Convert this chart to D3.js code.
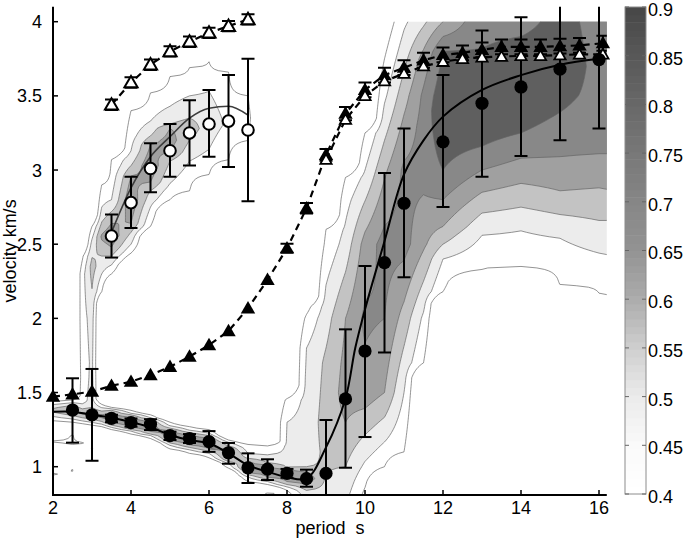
<!DOCTYPE html>
<html>
<head>
<meta charset="utf-8">
<script src="https://cdn.jsdelivr.net/npm/d3@7"></script>
<style>
  body { margin: 0; background: #fff; }
  text { font-family: "Liberation Sans", Arial, sans-serif; fill: #000; }
</style>
</head>
<body>
<svg id="chart" width="685" height="539"></svg>
<script>
// ---- point series ----
const openCircleX  = [3.5, 4, 4.5, 5, 5.5, 6, 6.5, 7];
const openCircleV  = [2.555, 2.78, 3.01, 3.13, 3.25, 3.31, 3.33, 3.27];
const openCircleLo = [2.41, 2.61, 2.85, 2.955, 3.03, 3.09, 3.02, 2.79];
const openCircleHi = [2.70, 2.955, 3.18, 3.31, 3.47, 3.54, 3.64, 3.75];

const fillCircleX  = [2.5, 3, 3.5, 4, 4.5, 5, 5.5, 6, 6.5, 7, 7.5, 8, 8.5, 9, 9.5, 10, 10.5, 11, 12, 13, 14, 15, 16];
const fillCircleV  = [1.382, 1.349, 1.326, 1.297, 1.286, 1.209, 1.19, 1.169, 1.094, 0.993, 0.984, 0.955, 0.92, 0.955, 1.457, 1.78, 2.376, 2.776, 3.19, 3.45, 3.56, 3.68, 3.745];
const fillCircleLo = [1.162, 1.04, 1.30, 1.27, 1.247, 1.18, 1.16, 1.10, 1.02, 0.89, 0.91, 0.925, 0.865, 0.60, 0.993, 1.20, 1.77, 2.277, 2.75, 2.955, 3.094, 3.20, 3.28];
const fillCircleHi = [1.596, 1.659, 1.35, 1.325, 1.32, 1.236, 1.22, 1.24, 1.16, 1.09, 1.05, 0.985, 0.98, 1.315, 1.926, 2.353, 2.98, 3.28, 3.64, 3.94, 4.03, 4.4, 4.4];

const fillTriX = [2, 2.5, 3, 3.5, 4, 4.5, 5, 5.5, 6, 6.5, 7, 7.5, 8, 8.5, 9, 9.5, 10, 10.5, 11, 11.5, 12, 12.5, 13, 13.5, 14, 14.5, 15, 15.5, 16.1];
const fillTriV = [1.472, 1.488, 1.506, 1.546, 1.573, 1.618, 1.674, 1.742, 1.82, 1.915, 2.068, 2.259, 2.473, 2.742, 3.102, 3.38, 3.54, 3.64, 3.69, 3.74, 3.776, 3.79, 3.81, 3.83, 3.83, 3.83, 3.835, 3.84, 3.855];
const fillTriErr = [0, 0, 0, 0, 0, 0, 0, 0, 0, 0, 0, 0, 0.03, 0.035, 0.04, 0.045, 0.05, 0.05, 0.05, 0.05, 0.05, 0.05, 0.05, 0.05, 0.05, 0.05, 0.05, 0.05, 0.05];

const openTriX = [3.5, 4, 4.5, 5, 5.5, 6, 6.5, 7];
const openTriV = [3.44, 3.59, 3.71, 3.80, 3.865, 3.925, 3.97, 4.016];
const openTriErr = [0.035, 0.035, 0.035, 0.035, 0.035, 0.035, 0.035, 0.035];
const openTri2X = [9, 9.5, 10, 10.5, 11, 11.5, 12, 12.5, 13, 13.5, 14, 14.5, 15, 15.5, 16.1];
const openTri2V = [3.07, 3.34, 3.50, 3.60, 3.65, 3.70, 3.73, 3.75, 3.76, 3.765, 3.77, 3.77, 3.775, 3.78, 3.78];

// solid curves
const blackLineX = [2, 2.5, 3, 3.5, 4, 4.5, 5, 5.5, 6, 6.5, 7, 7.5, 8, 8.5, 9, 9.5, 9.75, 10, 10.5, 11, 11.5, 12, 13, 14, 15, 16];
const blackLineV = [1.37, 1.37, 1.35, 1.33, 1.30, 1.266, 1.214, 1.18, 1.158, 1.09, 1.01, 0.966, 0.93, 0.92, 1.13, 1.46, 1.8, 2.06, 2.52, 2.97, 3.2, 3.36, 3.54, 3.64, 3.71, 3.75];
const grayLineX = [3.5, 4, 4.5, 5, 5.5, 6, 6.5, 7];
const grayLineV = [2.58, 2.88, 3.09, 3.225, 3.35, 3.417, 3.43, 3.37];

// ---- probability field: one velocity profile [velocity, value] per period column ----
const fieldPeriods = [2, 2.5, 2.75, 3, 3.25, 3.5, 4, 4.5, 5, 5.5, 6, 6.5, 7, 7.5, 8, 8.5, 9, 9.5, 10, 10.5, 11, 11.5, 12, 13, 14, 15, 16, 16.2];
const fieldProfiles = [
  [[0.91,0.3],[0.95,0.42],[0.99,0.3],[1.13,0.3],[1.17,0.41],[1.21,0.3],[1.29,0.3],[1.31,0.4],[1.35,0.47],[1.38,0.52],[1.41,0.47],[1.44,0.4],[1.47,0.3]],
  [[0.94,0.3],[0.975,0.42],[1.01,0.3],[1.1,0.3],[1.16,0.42],[1.21,0.41],[1.25,0.3],[1.27,0.3],[1.30,0.4],[1.33,0.47],[1.36,0.53],[1.39,0.56],[1.42,0.48],[1.45,0.4],[1.48,0.3]],
  [[1.12,0.3],[1.16,0.41],[1.2,0.3],[1.26,0.3],[1.29,0.4],[1.32,0.48],[1.36,0.56],[1.40,0.48],[1.44,0.43],[1.6,0.42],[2.0,0.43],[2.3,0.43],[2.42,0.39],[2.5,0.3]],
  [[1.05,0.3],[1.12,0.41],[1.18,0.3],[1.25,0.3],[1.28,0.4],[1.31,0.48],[1.35,0.56],[1.40,0.5],[1.45,0.47],[1.7,0.46],[2.0,0.47],[2.2,0.5],[2.35,0.52],[2.5,0.47],[2.62,0.4],[2.7,0.3]],
  [[1.24,0.3],[1.27,0.4],[1.30,0.49],[1.34,0.57],[1.38,0.49],[1.42,0.4],[1.46,0.3],[2.1,0.3],[2.18,0.4],[2.3,0.45],[2.42,0.5],[2.55,0.56],[2.65,0.5],[2.75,0.45],[2.9,0.4],[2.98,0.3]],
  [[1.22,0.3],[1.25,0.4],[1.28,0.5],[1.295,0.55],[1.33,0.58],[1.365,0.55],[1.38,0.5],[1.40,0.4],[1.43,0.3],[2.22,0.3],[2.3,0.4],[2.36,0.45],[2.42,0.5],[2.48,0.55],[2.56,0.59],[2.64,0.55],[2.72,0.5],[2.8,0.45],[3.07,0.4],[3.15,0.3]],
  [[1.19,0.3],[1.22,0.4],[1.24,0.45],[1.25,0.5],[1.265,0.55],[1.30,0.59],[1.335,0.55],[1.35,0.5],[1.36,0.45],[1.38,0.4],[1.41,0.3],[2.36,0.3],[2.44,0.4],[2.5,0.45],[2.58,0.5],[2.64,0.55],[2.8,0.59],[2.96,0.55],[3.03,0.5],[3.13,0.45],[3.40,0.4],[3.48,0.3]],
  [[1.16,0.3],[1.19,0.4],[1.21,0.45],[1.22,0.5],[1.235,0.55],[1.27,0.59],[1.305,0.55],[1.32,0.5],[1.33,0.45],[1.35,0.4],[1.38,0.3],[2.55,0.3],[2.62,0.4],[2.75,0.45],[2.86,0.5],[2.92,0.55],[3.03,0.59],[3.17,0.55],[3.23,0.5],[3.33,0.45],[3.52,0.4],[3.6,0.3]],
  [[1.09,0.3],[1.12,0.4],[1.145,0.45],[1.16,0.5],[1.175,0.55],[1.21,0.59],[1.245,0.55],[1.26,0.5],[1.275,0.45],[1.30,0.4],[1.33,0.3],[2.72,0.3],[2.8,0.4],[2.91,0.45],[3.06,0.5],[3.12,0.55],[3.2,0.575],[3.28,0.55],[3.31,0.5],[3.43,0.45],[3.63,0.4],[3.7,0.3]],
  [[1.06,0.3],[1.09,0.4],[1.115,0.45],[1.13,0.5],[1.145,0.55],[1.18,0.59],[1.215,0.55],[1.23,0.5],[1.245,0.45],[1.27,0.4],[1.3,0.3],[2.78,0.3],[2.86,0.4],[3.06,0.45],[3.2,0.5],[3.28,0.53],[3.35,0.5],[3.50,0.45],[3.69,0.4],[3.76,0.3]],
  [[1.03,0.3],[1.06,0.4],[1.09,0.45],[1.105,0.5],[1.12,0.55],[1.16,0.59],[1.195,0.55],[1.21,0.5],[1.225,0.45],[1.25,0.4],[1.28,0.3],[2.9,0.3],[2.97,0.4],[3.14,0.45],[3.35,0.48],[3.53,0.45],[3.73,0.4],[3.8,0.3]],
  [[0.96,0.3],[0.99,0.4],[1.02,0.45],[1.035,0.5],[1.05,0.55],[1.09,0.59],[1.125,0.55],[1.14,0.5],[1.165,0.45],[1.18,0.4],[1.21,0.3],[3.0,0.3],[3.07,0.4],[3.3,0.44],[3.66,0.4],[3.72,0.3]],
  [[0.87,0.3],[0.9,0.4],[0.93,0.45],[0.945,0.5],[0.96,0.55],[1.0,0.59],[1.04,0.55],[1.055,0.5],[1.09,0.45],[1.15,0.4],[1.18,0.3],[3.1,0.3],[3.2,0.4],[3.35,0.415],[3.5,0.4],[3.6,0.3]],
  [[0.78,0.43],[0.82,0.41],[0.845,0.3],[0.85,0.3],[0.88,0.4],[0.9,0.45],[0.915,0.5],[0.93,0.55],[0.97,0.59],[1.01,0.55],[1.025,0.5],[1.08,0.45],[1.14,0.4],[1.17,0.3]],
  [[0.78,0.35],[0.82,0.38],[0.84,0.4],[0.865,0.45],[0.88,0.5],[0.9,0.55],[0.94,0.59],[0.98,0.55],[0.995,0.5],[1.05,0.46],[1.3,0.45],[1.45,0.41],[1.55,0.3]],
  [[0.78,0.45],[0.84,0.5],[0.875,0.55],[0.92,0.59],[0.965,0.55],[1.0,0.5],[1.1,0.48],[1.3,0.47],[1.6,0.46],[1.8,0.45],[2.0,0.41],[2.08,0.38],[2.15,0.3]],
  [[0.78,0.47],[0.95,0.5],[1.3,0.52],[1.7,0.51],[2.0,0.48],[2.3,0.44],[2.5,0.41],[2.6,0.4],[2.7,0.3]],
  [[0.78,0.46],[1.0,0.5],[1.3,0.55],[1.5,0.57],[2.0,0.55],[2.5,0.47],[2.8,0.43],[2.95,0.4],[3.05,0.3]],
  [[0.78,0.38],[0.9,0.41],[1.0,0.44],[1.5,0.58],[2.0,0.61],[2.5,0.57],[3.0,0.45],[3.25,0.4],[3.35,0.3]],
  [[0.9,0.3],[1.0,0.4],[1.5,0.55],[2.0,0.6],[2.5,0.62],[3.0,0.54],[3.5,0.44],[3.75,0.4],[4.0,0.36]],
  [[1.0,0.3],[1.1,0.4],[1.5,0.45],[2.0,0.53],[2.5,0.62],[3.0,0.61],[3.5,0.53],[4.0,0.44]],
  [[1.6,0.3],[1.7,0.4],[2.0,0.44],[2.5,0.56],[3.0,0.62],[3.3,0.62],[3.5,0.61],[3.75,0.57],[4.0,0.49]],
  [[2.1,0.3],[2.18,0.4],[2.4,0.45],[2.5,0.5],[2.62,0.55],[2.8,0.6],[3.0,0.65],[3.4,0.7],[3.8,0.65],[3.9,0.6],[4.0,0.55]],
  [[2.25,0.3],[2.33,0.4],[2.56,0.45],[2.71,0.5],[2.85,0.55],[3.0,0.6],[3.16,0.65],[3.5,0.72],[3.82,0.65],[3.9,0.64],[4.0,0.64]],
  [[2.27,0.3],[2.35,0.4],[2.59,0.45],[2.75,0.5],[2.91,0.55],[3.08,0.6],[3.25,0.65],[3.6,0.72],[3.9,0.65],[4.0,0.62]],
  [[2.15,0.3],[2.225,0.4],[2.54,0.45],[2.70,0.5],[2.86,0.55],[3.09,0.6],[3.39,0.65],[3.7,0.7],[4.0,0.68]],
  [[2.1,0.3],[2.17,0.4],[2.44,0.45],[2.66,0.5],[2.88,0.55],[3.11,0.6],[3.5,0.63],[4.0,0.62]],
  [[2.08,0.3],[2.16,0.4],[2.43,0.45],[2.66,0.5],[2.87,0.55],[3.11,0.6],[3.5,0.63],[4.0,0.62]]
];
const levels     = [0.4, 0.45, 0.5, 0.55, 0.6, 0.65];
const levelFills = ["#ffffff", "#ececec", "#c3c3c3", "#a0a0a0", "#888888", "#5f5f5f"];

// colorbar
const cbarValues = [0.4, 0.45, 0.5, 0.55, 0.6, 0.65, 0.7, 0.75, 0.8, 0.85, 0.9];
const cbarGrays  = [255, 250, 235, 207, 172, 147, 134, 120, 104, 88, 71];

const xTicks = [2, 4, 6, 8, 10, 12, 14, 16];
const yTicks = [1, 1.5, 2, 2.5, 3, 3.5, 4];
const cbarTicks = [0.4, 0.45, 0.5, 0.55, 0.6, 0.65, 0.7, 0.75, 0.8, 0.85, 0.9];

// ---- scales ----
const x = d3.scaleLinear().domain([2, 16]).range([53, 599]);
const y = d3.scaleLinear().domain([1, 4]).range([466.7, 21.7]);
const X_END = 16.2, Y_BOT = 0.81, Y_TOP = 4.1, FIELD_TOP = 4.0;
const cb = d3.scaleLinear().domain([0.4, 0.9]).range([494, 7]);
const FONT = "18px";

const svg = d3.select("#chart");
const defs = svg.append("defs");
defs.append("clipPath").attr("id", "fieldClip").append("rect")
  .attr("x", x(2)).attr("y", y(FIELD_TOP))
  .attr("width", x(X_END) - x(2)).attr("height", y(Y_BOT) - y(FIELD_TOP));
defs.append("clipPath").attr("id", "plotClip").append("rect")
  .attr("x", x(2)).attr("y", y(Y_TOP))
  .attr("width", x(X_END) - x(2)).attr("height", y(Y_BOT) - y(Y_TOP));

// ---- contour field ----
const vStep = 0.01, vMin = 0.7, vMax = 4.1;
const rowV = d3.range(Math.round((vMax - vMin) / vStep) + 1).map(j => vMin + j * vStep);
// pad one column each side so the grid edge falls outside the clip
const colP = [fieldPeriods[0] - 0.2, ...fieldPeriods, fieldPeriods[fieldPeriods.length - 1] + 0.2];
const colProfiles = [fieldProfiles[0], ...fieldProfiles, fieldProfiles[fieldProfiles.length - 1]];
const profileScales = colProfiles.map(p => d3.scaleLinear()
  .domain(p.map(d => d[0])).range(p.map(d => d[1])).clamp(true));
const nc = colP.length, nr = rowV.length;
const grid = new Float64Array(nc * nr);
for (let j = 0; j < nr; j++)
  for (let i = 0; i < nc; i++) grid[j * nc + i] = profileScales[i](rowV[j]);

const colIdx = d3.scaleLinear().domain(d3.range(nc)).range(colP);
const rowIdx = d3.scaleLinear().domain([0, nr - 1]).range([vMin, vMin + (nr - 1) * vStep]);
const proj = d3.geoTransform({
  point(px, py) { this.stream.point(x(colIdx(px - 0.5)), y(rowIdx(py - 0.5))); }
});
const geo = d3.geoPath(proj);
const contours = d3.contours().size([nc, nr]).thresholds(levels)(grid);

svg.append("g").attr("clip-path", "url(#fieldClip)")
  .selectAll("path")
  .data(contours)
  .join("path")
  .attr("d", geo)
  .attr("fill", (d, i) => levelFills[i])
  .attr("stroke", "#666")
  .attr("stroke-width", 0.7)
  .attr("stroke-linejoin", "round");

// ---- curves ----
const plot = svg.append("g").attr("clip-path", "url(#plotClip)");
const line = d3.line().x(d => x(d[0])).y(d => y(d[1]));

plot.append("path")
  .attr("d", line.curve(d3.curveMonotoneX)(d3.zip(grayLineX, grayLineV)))
  .attr("fill", "none").attr("stroke", "#3c3c3c").attr("stroke-width", 1.6);

plot.append("path")
  .attr("d", line.curve(d3.curveCatmullRom)(d3.zip(blackLineX, blackLineV)))
  .attr("fill", "none").attr("stroke", "#000").attr("stroke-width", 2);

const dashed = d3.line().x(d => x(d[0])).y(d => y(d[1]));
[[fillTriX, fillTriV], [openTriX, openTriV], [openTri2X, openTri2V]].forEach(([xs, vs]) => {
  svg.append("path")
    .attr("d", dashed(d3.zip(xs, vs)))
    .attr("fill", "none").attr("stroke", "#000")
    .attr("stroke-width", 2.2).attr("stroke-dasharray", "7,5");
});

// ---- error bars ----
function errorBars(xs, lo, hi) {
  const g = plot.append("g").attr("stroke", "#000").attr("stroke-width", 2);
  xs.forEach((p, i) => {
    if (hi[i] - lo[i] <= 0) return;
    g.append("line").attr("x1", x(p)).attr("x2", x(p)).attr("y1", y(lo[i])).attr("y2", y(hi[i]));
    g.append("line").attr("x1", x(p) - 6.5).attr("x2", x(p) + 6.5).attr("y1", y(lo[i])).attr("y2", y(lo[i]));
    g.append("line").attr("x1", x(p) - 6.5).attr("x2", x(p) + 6.5).attr("y1", y(hi[i])).attr("y2", y(hi[i]));
  });
}
errorBars(fillTriX, fillTriV.map((v, i) => v - fillTriErr[i]), fillTriV.map((v, i) => v + fillTriErr[i]));
errorBars(openTriX, openTriV.map((v, i) => v - openTriErr[i]), openTriV.map((v, i) => v + openTriErr[i]));
errorBars(fillCircleX, fillCircleLo, fillCircleHi);
errorBars(openCircleX, openCircleLo, openCircleHi);

// ---- markers ----
const tri = d3.symbol().type(d3.symbolTriangle);
svg.append("g").selectAll("path")
  .data(d3.zip(fillTriX, fillTriV)).join("path")
  .attr("transform", d => `translate(${x(d[0])},${y(d[1]) + 1})`)
  .attr("d", tri.size(90)()).attr("fill", "#000");
svg.append("g").selectAll("path")
  .data(d3.zip(openTri2X, openTri2V)).join("path")
  .attr("transform", d => `translate(${x(d[0])},${y(d[1]) + 1})`)
  .attr("d", tri.size(55)()).attr("fill", "#fff").attr("stroke", "#000").attr("stroke-width", 1.8);
svg.append("g").selectAll("path")
  .data(d3.zip(openTriX, openTriV)).join("path")
  .attr("transform", d => `translate(${x(d[0])},${y(d[1]) + 1})`)
  .attr("d", tri.size(75)()).attr("fill", "#fff").attr("stroke", "#000").attr("stroke-width", 2);

svg.append("g").selectAll("circle")
  .data(d3.zip(fillCircleX, fillCircleV)).join("circle")
  .attr("cx", d => x(d[0])).attr("cy", d => y(d[1])).attr("r", 6.6).attr("fill", "#000");
svg.append("g").selectAll("circle")
  .data(d3.zip(openCircleX, openCircleV)).join("circle")
  .attr("cx", d => x(d[0])).attr("cy", d => y(d[1])).attr("r", 5.8)
  .attr("fill", "#fff").attr("stroke", "#000").attr("stroke-width", 2);

// ---- axes ----
const axes = svg.append("g").attr("stroke", "#000").attr("stroke-width", 2);
axes.append("line").attr("x1", x(2)).attr("x2", x(2)).attr("y1", y(Y_TOP)).attr("y2", y(Y_BOT) + 1);
axes.append("line").attr("x1", x(2) - 1).attr("x2", x(X_END)).attr("y1", y(Y_BOT)).attr("y2", y(Y_BOT));
xTicks.forEach(t => axes.append("line").attr("x1", x(t)).attr("x2", x(t)).attr("y1", y(Y_BOT)).attr("y2", y(Y_BOT) - 5).attr("stroke-width", 1.5));
yTicks.forEach(t => axes.append("line").attr("x1", x(2)).attr("x2", x(2) + 5).attr("y1", y(t)).attr("y2", y(t)).attr("stroke-width", 1.5));

svg.append("g").selectAll("text").data(xTicks).join("text")
  .attr("x", d => x(d)).attr("y", 514).attr("text-anchor", "middle")
  .style("font-size", FONT).text(d => d);
svg.append("g").selectAll("text").data(yTicks).join("text")
  .attr("x", 42).attr("y", d => y(d)).attr("dy", "0.36em").attr("text-anchor", "end")
  .style("font-size", FONT).text(d => d);

svg.append("text").attr("x", (x(2) + x(X_END)) / 2).attr("y", 534)
  .attr("text-anchor", "middle").style("font-size", FONT)
  .text("period\u00a0\u00a0s");
svg.append("text").attr("transform", `translate(16,${(y(Y_TOP) + y(Y_BOT)) / 2}) rotate(-90)`)
  .attr("text-anchor", "middle").style("font-size", FONT).text("velocity km/s");

// ---- colorbar ----
const cbX = 625, cbW = 21;
const cbColor = d3.scaleLinear().domain(cbarValues).range(cbarGrays);
const nSteps = 64;
const cbg = svg.append("g");
d3.range(nSteps).forEach(k => {
  const v0 = 0.4 + k * 0.5 / nSteps, v1 = v0 + 0.5 / nSteps;
  const g = Math.round(cbColor((v0 + v1) / 2));
  cbg.append("rect").attr("x", cbX).attr("y", cb(v1)).attr("width", cbW)
    .attr("height", cb(v0) - cb(v1) + 0.5).attr("fill", `rgb(${g},${g},${g})`);
});
cbg.append("rect").attr("x", cbX).attr("y", cb(0.9)).attr("width", cbW).attr("height", cb(0.4) - cb(0.9))
  .attr("fill", "none").attr("stroke", "#8c8c8c").attr("stroke-width", 1);
cbarTicks.forEach(t => {
  cbg.append("line").attr("x1", cbX).attr("x2", cbX + 4).attr("y1", cb(t)).attr("y2", cb(t)).attr("stroke", "#666");
  cbg.append("line").attr("x1", cbX + cbW - 4).attr("x2", cbX + cbW).attr("y1", cb(t)).attr("y2", cb(t)).attr("stroke", "#666");
});
cbg.selectAll("text").data(cbarTicks).join("text")
  .attr("x", 648).attr("y", d => cb(d) + 2.5).attr("dy", "0.36em")
  .style("font-size", FONT).text(d => d);
</script>
</body>
</html>
